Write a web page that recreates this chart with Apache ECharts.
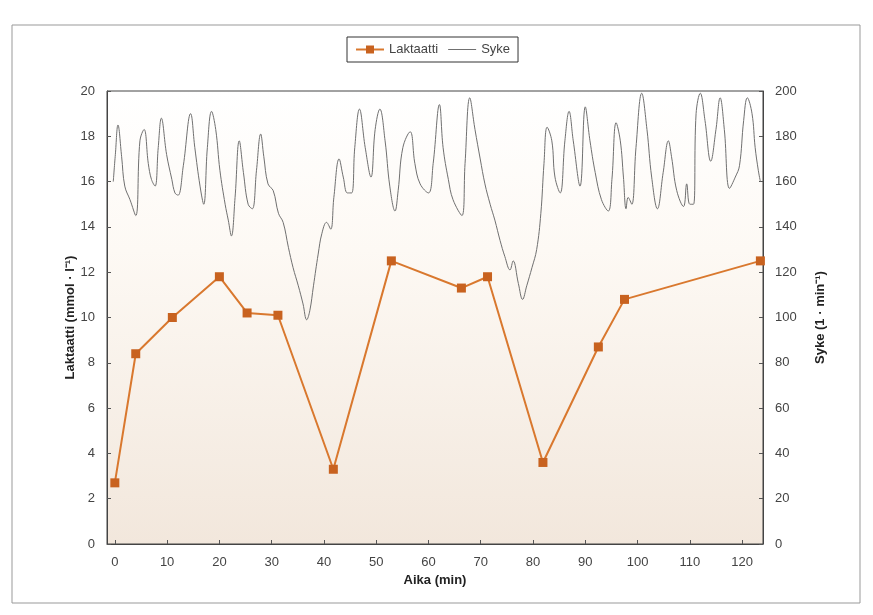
<!DOCTYPE html>
<html>
<head>
<meta charset="utf-8">
<script src="https://cdn.jsdelivr.net/npm/echarts@6/dist/echarts.min.js"></script>
<style>html,body{margin:0;padding:0;background:#fff}#c{width:873px;height:615px}</style>
</head>
<body>
<div id="c"></div>
<script>
// Lactate (mmol/l) measurements
const lactateTime  = [0, 4, 11, 20, 25.3, 31.2, 41.8, 52.9, 66.3, 71.3, 81.9, 92.5, 97.5, 123.5];
const lactateValue = [2.7, 8.4, 10.0, 11.8, 10.2, 10.1, 3.3, 12.5, 11.3, 11.8, 3.6, 8.7, 10.8, 12.5];

// Heart rate (1/min) trace
const hrTime = [-0.3,0.1,0.6,1.3,1.9,2.9,4.0,4.8,5.6,6.4,7.0,7.7,8.3,8.9,9.9,10.9,11.5,12.1,13.1,14.5,15.3,16.3,17.0,17.7,18.5,19.3,20.1,21.1,21.7,22.3,23.0,23.8,24.6,25.5,26.3,27.1,27.9,28.5,29.3,30.3,31.3,32.2,33.2,34.1,35.1,36.0,36.7,37.3,38.0,38.9,39.6,40.5,41.3,41.9,42.9,43.7,44.5,45.3,45.9,46.8,47.9,49.0,49.8,50.7,51.7,52.6,53.6,54.2,55.1,56.5,57.4,58.4,60.0,60.9,62.1,62.8,63.8,64.7,66.4,67.0,67.9,68.9,69.9,70.8,71.8,72.7,73.7,74.6,75.6,76.2,77.2,78.0,78.8,79.8,80.7,81.5,82.1,82.7,83.6,84.2,85.2,86.1,86.9,87.7,89.0,90.0,90.9,91.9,93.1,94.4,95.1,95.9,96.7,97.3,97.8,98.2,98.9,99.7,100.8,101.8,102.7,103.8,104.9,105.9,106.5,107.5,108.8,109.4,110.0,110.7,111.2,112.0,112.9,114.0,115.0,115.8,116.6,117.6,118.7,119.5,120.3,121.0,121.9,122.5,123.1,123.5];
const hrValue = [160,172,185,171,158,152,145,178,183,168,161,158,175,188,172,161,155,154,167,190,175,158,150,175,191,183,165,150,143,136,153,178,164,150,148,165,181,171,159,156,146,142,131,122,114,106,99,103,114,128,137,142,139,153,170,162,155,155,175,192,175,162,183,192,178,158,147,156,175,182,168,159,155,168,194,175,161,152,145,168,197,183,170,159,150,143,134,127,121,125,115,108,114,122,130,146,168,184,178,162,155,178,191,178,158,193,178,164,152,147,161,186,178,162,148,153,150,175,199,183,162,148,164,178,171,156,149,159,150,150,190,199,187,169,183,197,183,157,162,167,187,197,190,175,165,160];

const xTicks = [0,10,20,30,40,50,60,70,80,90,100,110,120];

const lac = lactateTime.map((t,i)=>[t, lactateValue[i]]);
const hr = hrTime.map((t,i)=>[t, hrValue[i]]);

const font = 'Liberation Sans, Arial, sans-serif';
const labelStyle = {color:'#444', fontSize:13, fontFamily:font};
const nameStyle = {color:'#222', fontSize:13, fontWeight:'bold', fontFamily:font};
const lineIcon = 'path://M0,0 h0.01 v0.01 h-0.01 z M0,4.5 h28 v1 h-28 z M0,10 h0.01 v0.01 h-0.01 z';

const chart = echarts.init(document.getElementById('c'), null, {renderer:'canvas'});
chart.setOption({
  backgroundColor:'#fff',
  animation:false,
  graphic:[{
    type:'rect', shape:{x:12, y:25, width:848, height:578},
    style:{fill:'none', stroke:'#999', lineWidth:1}, silent:true, z:-10
  }],
  legend:{
    left:347, top:37,
    borderColor:'#333', borderWidth:1,
    padding:[6,8], itemGap:10, itemWidth:28, itemHeight:10,
    textStyle:{color:'#444', fontSize:13, fontFamily:font},
    data:[{name:'Laktaatti'},{name:'Syke', icon:lineIcon}]
  },
  grid:{
    left:107, right:110, top:91, bottom:71, show:true,
    borderColor:'#444', borderWidth:1,
    backgroundColor:{type:'linear', x:0, y:0, x2:0, y2:1, colorStops:[
      {offset:0, color:'#ffffff'}, {offset:0.35, color:'#fdf9f4'}, {offset:1, color:'#f2e7dc'}]}
  },
  xAxis:{
    type:'value', min:-1.5, max:124,
    name:'Aika (min)', nameLocation:'middle', nameGap:30, nameTextStyle:nameStyle,
    axisLine:{onZero:false, lineStyle:{color:'#444'}},
    axisTick:{inside:true, length:4, customValues:xTicks, lineStyle:{color:'#555'}},
    axisLabel:Object.assign({customValues:xTicks, margin:12}, labelStyle),
    splitLine:{show:false}
  },
  yAxis:[{
    type:'value', min:0, max:20, interval:2, position:'left',
    name:'Laktaatti (mmol · l⁻¹)', nameLocation:'middle', nameGap:30, nameMoveOverlap:false, nameTextStyle:nameStyle,
    axisLine:{show:true, onZero:false, lineStyle:{color:'#444'}},
    axisTick:{show:true, inside:true, length:4, lineStyle:{color:'#555'}},
    axisLabel:Object.assign({margin:12}, labelStyle),
    splitLine:{show:false}
  },{
    type:'value', min:0, max:200, interval:20, position:'right',
    name:'Syke (1 · min⁻¹)', nameLocation:'middle', nameGap:51, nameRotate:90, nameMoveOverlap:false, nameTextStyle:nameStyle,
    axisLine:{show:true, onZero:false, lineStyle:{color:'#444'}},
    axisTick:{show:true, inside:true, length:4, lineStyle:{color:'#555'}},
    axisLabel:Object.assign({margin:12}, labelStyle),
    splitLine:{show:false}
  }],
  series:[{
    name:'Laktaatti', type:'line', yAxisIndex:0, data:lac,
    symbol:'rect', symbolSize:9, z:3,
    lineStyle:{color:'#d9782e', width:2},
    itemStyle:{color:'#c8621f'}
  },{
    name:'Syke', type:'line', yAxisIndex:1, data:hr,
    smooth:0.4, showSymbol:false, symbol:'none', z:2,
    lineStyle:{color:'#707070', width:1},
    itemStyle:{color:'#707070'}
  }]
});
</script>
</body>
</html>
